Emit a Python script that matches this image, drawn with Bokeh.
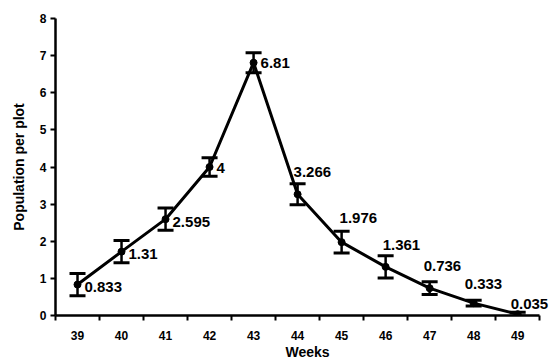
from bokeh.plotting import figure
from bokeh.models import ColumnDataSource, Whisker, TeeHead, FixedTicker, LabelSet, Range1d
from bokeh.core.properties import value
from bokeh.embed import file_html
from bokeh.resources import INLINE

weeks = [39, 40, 41, 42, 43, 44, 45, 46, 47, 48, 49]
week_labels = ["39", "40", "41", "42", "43", "44", "45", "46", "47", "48", "49"]
population = [0.833, 1.72, 2.595, 4.0, 6.81, 3.266, 1.976, 1.31, 0.736, 0.333, 0.035]
std_err = [0.30, 0.30, 0.30, 0.25, 0.27, 0.28, 0.29, 0.30, 0.17, 0.08, 0.05]
value_labels = ["0.833", "1.31", "2.595", "4", "6.81", "3.266", "1.976", "1.361", "0.736", "0.333", "0.035"]

# label offsets (screen px) - styling only
lab_dx = [7, 7, 7, 7, 7, -4, -2, -3, -6, -9, -7]
lab_dy = [-2, -2, -3, -1, 0, 22, 24, 22, 22, 19, 10]

src = ColumnDataSource(dict(
    x=weeks, y=population,
    lower=[v - e for v, e in zip(population, std_err)],
    upper=[v + e for v, e in zip(population, std_err)],
    lab=value_labels, dx=lab_dx, dy=lab_dy,
))

p = figure(width=559, height=362, output_backend="svg", toolbar_location=None,
           x_range=Range1d(38.5, 49.95), y_range=Range1d(0, 8),
           min_border_left=55, min_border_right=0, min_border_top=18, min_border_bottom=43)
p.outline_line_color = None
p.xgrid.visible = False
p.ygrid.visible = False
p.background_fill_color = "white"

p.line("x", "y", source=src, line_color="black", line_width=3)
p.scatter("x", "y", source=src, size=7, color="black")

w = Whisker(source=src, base="x", upper="upper", lower="lower",
            line_color="black", line_width=2.5,
            upper_head=TeeHead(size=16, line_color="black", line_width=3),
            lower_head=TeeHead(size=16, line_color="black", line_width=3))
p.add_layout(w)

labels = LabelSet(source=src, x="x", y="y", text="lab", x_offset="dx", y_offset="dy",
                  text_font=value("Liberation Sans"), text_font_style="bold",
                  text_font_size="15px",
                  text_color="black", text_baseline="middle", text_align="left")
p.add_layout(labels)

# x axis: labels at centers, ticks at boundaries
p.xaxis.bounds = (38.5, 49.5)
p.xaxis.ticker = FixedTicker(ticks=weeks, minor_ticks=[w_ - 0.5 for w_ in weeks] + [49.5])
p.xaxis.major_label_overrides = {w_: l for w_, l in zip(weeks, week_labels)}
p.xaxis.major_tick_out = 0
p.xaxis.major_tick_in = 0
p.xaxis.minor_tick_out = 5
p.xaxis.minor_tick_in = 0
p.xaxis.minor_tick_line_width = 2
p.xaxis.axis_line_width = 2.5
p.xaxis.major_label_standoff = 10
p.xaxis.axis_label = "Weeks"
p.xaxis.axis_label_standoff = 1

p.yaxis.ticker = FixedTicker(ticks=list(range(0, 9)))
p.yaxis.major_tick_out = 5
p.yaxis.major_tick_in = 0
p.yaxis.major_tick_line_width = 2
p.yaxis.minor_tick_line_color = None
p.yaxis.axis_line_width = 2.5
p.yaxis.major_label_standoff = 4
p.yaxis.axis_label = "Population per plot"
p.yaxis.axis_label_standoff = 10

for ax in (p.xaxis, p.yaxis):
    ax.major_label_text_font = "Liberation Sans"
    ax.major_label_text_font_style = "bold"
    ax.major_label_text_font_size = "12px"
    ax.major_label_text_color = "black"
    ax.axis_label_text_font = "Liberation Sans"
    ax.axis_label_text_font_style = "bold"
    ax.axis_label_text_font_size = "14px"
    ax.axis_label_text_color = "black"
    ax.axis_line_color = "black"
    ax.major_tick_line_color = "black"

open("out.html", "w").write(file_html(p, INLINE))
